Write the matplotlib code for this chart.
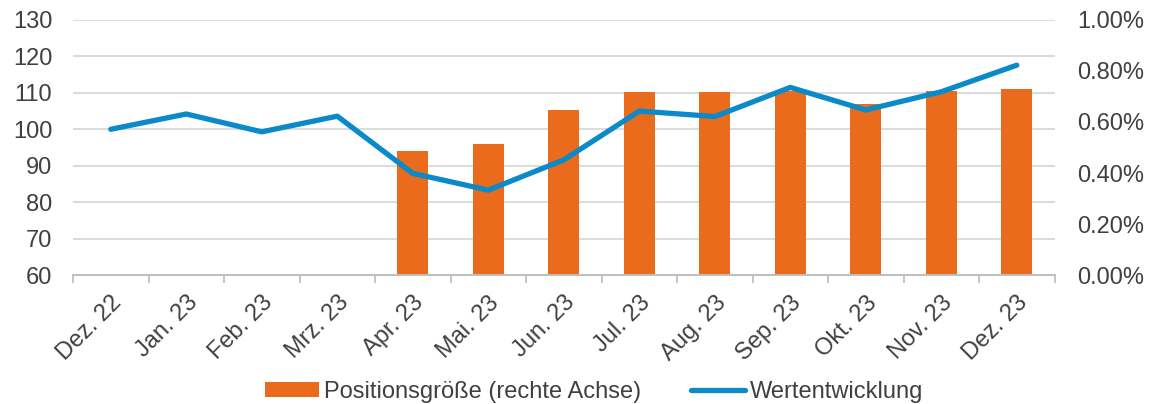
import numpy as np
import matplotlib
matplotlib.use("Agg")
import matplotlib.pyplot as plt
from matplotlib.ticker import FuncFormatter, FixedLocator

# Data
months = ["Dez. 22", "Jan. 23", "Feb. 23", "Mrz. 23", "Apr. 23", "Mai. 23",
          "Jun. 23", "Jul. 23", "Aug. 23", "Sep. 23", "Okt. 23", "Nov. 23",
          "Dez. 23"]
wertentwicklung = [100.0, 104.2, 99.3, 103.6, 87.9, 83.3, 91.6, 105.0,
                   103.5, 111.5, 105.3, 110.3, 117.6]
positionsgroesse = [np.nan, np.nan, np.nan, np.nan, 0.486, 0.512, 0.646,
                    0.718, 0.719, 0.722, 0.670, 0.723, 0.730]

orange = "#E96B1B"
blue = "#0A8AC9"
grid_col = "#D9D9D9"
text_col = "#404040"
fs = 17

plt.rcParams['font.family'] = ['Liberation Sans', 'DejaVu Sans']

fig = plt.figure(figsize=(11.5, 4.04), dpi=100)
ax = fig.add_axes([0.0635, 0.3193, 0.8535, 0.6312])
ax2 = ax.twinx()

x = np.arange(len(months))

# bars on the primary axes, shown on the right
ax.bar(x, positionsgroesse, width=0.41, color=orange, zorder=2,
       label="Positionsgröße (rechte Achse)")
ax.set_ylim(0, 1.0)
ax.yaxis.tick_right()
ax.yaxis.set_major_locator(FixedLocator(np.arange(0, 1.01, 0.2)))
ax.yaxis.set_major_formatter(FuncFormatter(lambda v, p: f"{v:.2f}%"))

# line on the twin axes, shown on the left
ax2.plot(x, wertentwicklung, color=blue, lw=3.8, solid_capstyle="round",
         zorder=3, label="Wertentwicklung")
ax2.set_ylim(60, 130)
ax2.yaxis.tick_left()
ax2.yaxis.set_major_locator(FixedLocator(np.arange(60, 131, 10)))

# gridlines follow the left axis
for v in np.arange(70, 131, 10):
    ax.axhline((v - 60) / 70, color=grid_col, lw=1.3, zorder=0)

ax.set_xlim(-0.5, len(months) - 0.5)
ax.set_xticks(x)
ax.set_xticklabels(months, rotation=45, ha="right", rotation_mode="anchor")
ax.set_xticks(np.arange(-0.5, len(months), 1), minor=True)
ax.tick_params(axis="x", which="major", length=0, pad=12,
               labelsize=fs, colors=text_col)
ax.tick_params(axis="x", which="minor", length=6, width=1.3,
               color="#BFBFBF", direction="out")
ax.tick_params(axis="y", length=0, labelsize=fs, colors=text_col, pad=16)
ax2.tick_params(axis="y", length=0, labelsize=fs, colors=text_col, pad=15)

for a in (ax, ax2):
    for s in ("top", "left", "right"):
        a.spines[s].set_visible(False)
    a.spines["bottom"].set_color("#BFBFBF")
    a.spines["bottom"].set_linewidth(1.3)

h1, l1 = ax.get_legend_handles_labels()
h2, l2 = ax2.get_legend_handles_labels()
leg = fig.legend(h1 + h2, l1 + l2, loc="lower center",
                 bbox_to_anchor=(0.5165, -0.05), ncol=2, frameon=False,
                 fontsize=fs, handlelength=2.3, handleheight=0.6,
                 handletextpad=0.2, columnspacing=2.1)
for t in leg.get_texts():
    t.set_color(text_col)

fig.savefig("out.png", dpi=100)
